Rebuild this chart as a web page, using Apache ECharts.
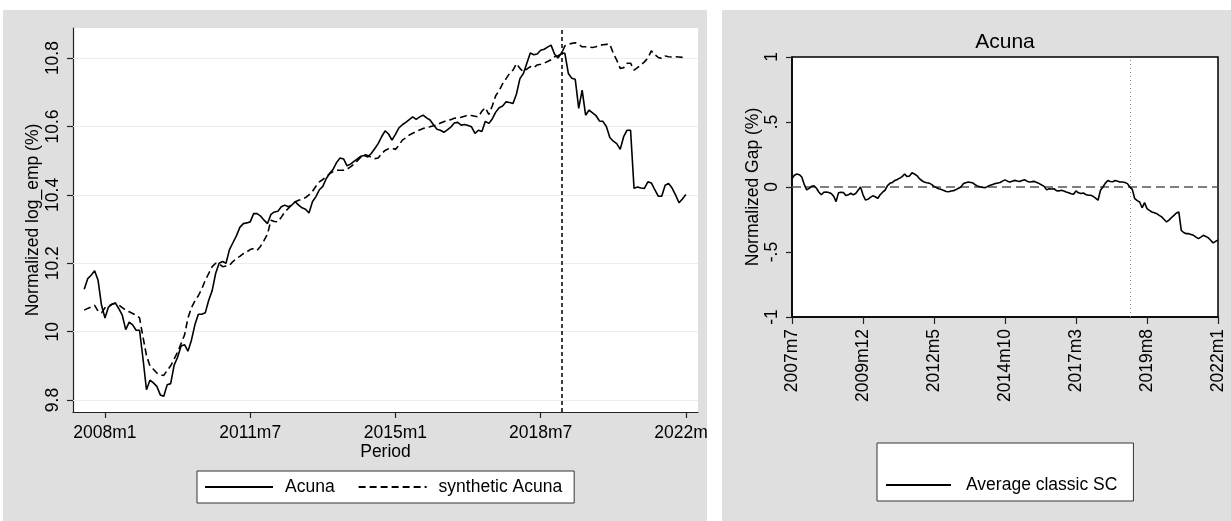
<!DOCTYPE html>
<html>
<head>
<meta charset="utf-8">
<title>Acuna: actual vs synthetic employment</title>
<script src="https://cdn.jsdelivr.net/npm/echarts@6/dist/echarts.min.js"></script>
<style>
  html, body { margin: 0; padding: 0; background: #ffffff; }
  #chart { width: 1231px; height: 521px; }
</style>
</head>
<body>
<div id="chart"></div>
<script>
// Monthly observations, 2007m7 .. 2022m1 (175 months)
const startYear = 2007;
const startMonth = 7;

// Normalized log employment, Acuna
const acuna = [
  10.124, 10.155, 10.165, 10.178, 10.150, 10.077, 10.040, 10.072, 10.080, 10.084,
  10.067, 10.048, 10.006, 10.028, 10.020, 10.004, 10.004, 9.920, 9.830, 9.858,
  9.850, 9.840, 9.815, 9.811, 9.845, 9.848, 9.902, 9.925, 9.958, 9.962,
  9.943, 9.975, 10.020, 10.051, 10.051, 10.055, 10.092, 10.120, 10.170, 10.200,
  10.205, 10.200, 10.240, 10.260, 10.280, 10.305, 10.316, 10.318, 10.321, 10.345,
  10.345, 10.338, 10.326, 10.316, 10.343, 10.350, 10.352, 10.365, 10.370, 10.365,
  10.370, 10.380, 10.370, 10.362, 10.358, 10.347, 10.380, 10.395, 10.415, 10.425,
  10.448, 10.463, 10.475, 10.495, 10.508, 10.505, 10.485, 10.490, 10.498, 10.505,
  10.513, 10.515, 10.511, 10.521, 10.535, 10.550, 10.570, 10.587, 10.578, 10.560,
  10.577, 10.596, 10.605, 10.612, 10.620, 10.628, 10.621, 10.628, 10.633, 10.625,
  10.619, 10.605, 10.592, 10.589, 10.583, 10.590, 10.598, 10.610, 10.612, 10.604,
  10.606, 10.603, 10.599, 10.580, 10.589, 10.585, 10.615, 10.609, 10.622, 10.642,
  10.655, 10.660, 10.672, 10.670, 10.667, 10.695, 10.740, 10.755, 10.785, 10.815,
  10.810, 10.812, 10.823, 10.826, 10.832, 10.838, 10.812, 10.800, 10.815, 10.814,
  10.755, 10.741, 10.738, 10.653, 10.706, 10.633, 10.648, 10.640, 10.632, 10.616,
  10.615, 10.600, 10.568, 10.557, 10.550, 10.533, 10.570, 10.589, 10.589, 10.419,
  10.423, 10.420, 10.419, 10.438, 10.435, 10.415, 10.396, 10.396, 10.428, 10.433,
  10.420, 10.400, 10.377, 10.388, 10.401
];

// Normalized log employment, synthetic Acuna
const synthetic = [
  10.063, 10.068, 10.072, 10.077, 10.060, 10.055, 10.070, 10.075, 10.080, 10.083,
  10.078, 10.070, 10.063, 10.058, 10.053, 10.048, 10.040, 9.984, 9.930, 9.900,
  9.890, 9.879, 9.874, 9.872, 9.887, 9.900, 9.920, 9.940, 9.965, 9.990,
  10.040, 10.070, 10.090, 10.105, 10.125, 10.150, 10.170, 10.190, 10.200, 10.198,
  10.190, 10.192, 10.194, 10.205, 10.214, 10.220, 10.228, 10.233, 10.240, 10.243,
  10.238, 10.250, 10.267, 10.285, 10.326, 10.322, 10.321, 10.335, 10.350, 10.360,
  10.370, 10.380, 10.384, 10.388, 10.392, 10.400, 10.410, 10.425, 10.438, 10.445,
  10.453, 10.462, 10.468, 10.472, 10.472, 10.472, 10.475, 10.482, 10.490, 10.500,
  10.510, 10.518, 10.515, 10.510, 10.506, 10.508, 10.520, 10.530, 10.535, 10.536,
  10.533, 10.545, 10.560, 10.567, 10.575, 10.580, 10.585, 10.590, 10.594, 10.597,
  10.599, 10.602, 10.604, 10.610, 10.614, 10.618, 10.620, 10.624, 10.625, 10.627,
  10.630, 10.633, 10.632, 10.630, 10.628, 10.645, 10.655, 10.635, 10.660, 10.690,
  10.705, 10.725, 10.740, 10.755, 10.765, 10.784, 10.770, 10.760, 10.768, 10.775,
  10.772, 10.780, 10.782, 10.785, 10.790, 10.795, 10.804, 10.807, 10.812, 10.836,
  10.840, 10.843, 10.845, 10.840, 10.833, 10.833, 10.832, 10.831, 10.833, 10.837,
  10.839, 10.840, 10.841, 10.814, 10.794, 10.770, 10.772, 10.785, 10.785, 10.765,
  10.772, 10.780, 10.789, 10.800, 10.821, 10.810, 10.802, 10.799, 10.806, 10.804,
  10.803, 10.804, 10.803, 10.802, 10.801
];

// Normalized gap, average classic synthetic control
const avgGap = [
  0.065, 0.090, 0.100, 0.095, 0.077, 0.020, -0.022, -0.010, 0.005, 0.010,
  -0.010, -0.040, -0.060, -0.040, -0.038, -0.042, -0.050, -0.070, -0.112, -0.045,
  -0.040, -0.042, -0.065, -0.060, -0.048, -0.060, -0.050, -0.025, 0.000, -0.060,
  -0.100, -0.095, -0.080, -0.068, -0.075, -0.088, -0.060, -0.040, -0.025, 0.010,
  0.028, 0.035, 0.050, 0.058, 0.068, 0.080, 0.100, 0.080, 0.085, 0.110,
  0.100, 0.088, 0.065, 0.050, 0.038, 0.033, 0.030, 0.020, 0.005, -0.005,
  -0.013, -0.020, -0.027, -0.035, -0.036, -0.031, -0.028, -0.020, -0.010, 0.000,
  0.026, 0.032, 0.038, 0.035, 0.030, 0.015, 0.005, 0.000, -0.003, -0.005,
  0.005, 0.013, 0.020, 0.027, 0.030, 0.035, 0.045, 0.055, 0.045, 0.038,
  0.045, 0.051, 0.046, 0.043, 0.050, 0.056, 0.045, 0.038, 0.041, 0.043,
  0.035, 0.026, 0.015, 0.005, -0.022, -0.013, -0.015, -0.013, -0.028, -0.030,
  -0.025, -0.030, -0.038, -0.044, -0.052, -0.056, -0.030, -0.045, -0.050, -0.046,
  -0.058, -0.064, -0.064, -0.072, -0.085, -0.102, -0.025, 0.000, 0.030, 0.050,
  0.042, 0.040, 0.050, 0.045, 0.038, 0.038, 0.035, 0.026, 0.000, -0.018,
  -0.090, -0.105, -0.115, -0.160, -0.120, -0.166, -0.180, -0.192, -0.198, -0.205,
  -0.218, -0.230, -0.250, -0.269, -0.255, -0.235, -0.218, -0.200, -0.192, -0.333,
  -0.350, -0.359, -0.359, -0.365, -0.372, -0.385, -0.397, -0.385, -0.372, -0.380,
  -0.390, -0.410, -0.430, -0.418, -0.410
];

// Tick labels
const leftXTicks = ['2008m1', '2011m7', '2015m1', '2018m7', '2022m1'];
const leftYTicks = [9.8, 10, 10.2, 10.4, 10.6, 10.8];
const rightXTicks = ['2007m7', '2009m12', '2012m5', '2014m10', '2017m3', '2019m8', '2022m1'];
const rightYTicks = [-1, -0.5, 0, 0.5, 1];
const treatmentMonth = '2019m1';

// "YYYYmM" <-> month index counted from the first observation
function toIndex(label) {
  const parts = label.split('m').map(Number);
  return (parts[0] - startYear) * 12 + (parts[1] - startMonth);
}
function toLabel(i) {
  const t = startMonth - 1 + Math.round(i);
  return (startYear + Math.floor(t / 12)) + 'm' + (t % 12 + 1);
}
// Stata-style numbers: drop the leading zero (".5", "-.5")
function stataNum(v) {
  const r = Math.round(v * 10) / 10;
  return String(r).replace(/^(-?)0\./, '$1.');
}

const FONT = '"Liberation Sans", Arial, Helvetica, sans-serif';
const FS = 17.5;
const PANEL = '#dfdfdf';
const GRIDLINE = '#e6eef0';

const series = (arr) => arr.map((v, i) => [i, v]);

const chart = echarts.init(document.getElementById('chart'), null, { renderer: 'canvas' });

const option = {
  animation: false,
  textStyle: { fontFamily: FONT },
  graphic: [
    // panel backgrounds
    { type: 'rect', z: -5, silent: true, shape: { x: 3, y: 10, width: 704, height: 511 }, style: { fill: PANEL } },
    { type: 'rect', z: -5, silent: true, shape: { x: 722, y: 10, width: 509, height: 511 }, style: { fill: PANEL } },
    // gutter between the two panels (clips anything that spills over)
    { type: 'rect', z: 100, silent: true, shape: { x: 707, y: 0, width: 15, height: 521 }, style: { fill: '#ffffff' } },
    // right panel title
    { type: 'text', z: 10, silent: true, x: 1005, y: 42,
      style: { text: 'Acuna', fontSize: 21, fontFamily: FONT, fill: '#000', align: 'center', verticalAlign: 'middle' } }
  ],
  grid: [
    { left: 73, top: 28, width: 625, height: 384, show: true, backgroundColor: '#ffffff', borderWidth: 0 },
    { left: 792, top: 57, width: 426, height: 260, show: true, backgroundColor: '#ffffff', borderColor: '#000', borderWidth: 1.5 }
  ],
  legend: [
    {
      data: ['Acuna', 'synthetic Acuna'],
      selectedMode: false,
      left: 197, top: 471,
      orient: 'horizontal',
      backgroundColor: '#ffffff',
      borderColor: '#333', borderWidth: 1, borderRadius: 0,
      padding: [7, 12, 7, 7],
      itemWidth: 68, itemHeight: 14, itemGap: 23,
      itemStyle: { opacity: 0 },
      textStyle: { fontSize: FS, color: '#000', fontFamily: FONT, padding: [0, 0, 0, 7] }
    },
    {
      data: ['Average classic SC'],
      selectedMode: false,
      left: 877, top: 443,
      backgroundColor: '#ffffff',
      borderColor: '#333', borderWidth: 1, borderRadius: 0,
      padding: [33, 16, 7, 8],
      itemWidth: 65, itemHeight: 14,
      itemStyle: { opacity: 0 },
      textStyle: { fontSize: FS, color: '#000', fontFamily: FONT, padding: [0, 0, 0, 10] }
    }
  ],
  xAxis: [
    {
      gridIndex: 0, type: 'value', min: -3.25, max: 177.5,
      axisLine: { show: true, onZero: false, lineStyle: { color: '#222', width: 1.2 } },
      axisTick: { show: true, length: 6, customValues: leftXTicks.map(toIndex), lineStyle: { color: '#222', width: 1.2 } },
      axisLabel: { customValues: leftXTicks.map(toIndex), formatter: (v) => toLabel(v), fontSize: FS, color: '#000', margin: 12 },
      splitLine: { show: false },
      name: 'Period', nameLocation: 'middle', nameGap: 31, nameMoveOverlap: false,
      nameTextStyle: { fontSize: FS, color: '#000', fontFamily: FONT }
    },
    {
      gridIndex: 1, type: 'value', min: 0, max: 174,
      axisLine: { show: true, onZero: false, lineStyle: { color: '#000', width: 1.5 } },
      axisTick: { show: true, length: 7, customValues: rightXTicks.map(toIndex), lineStyle: { color: '#222', width: 1.2 } },
      axisLabel: { customValues: rightXTicks.map(toIndex), formatter: (v) => toLabel(v), rotate: 90, fontSize: FS, color: '#000', margin: 12 },
      splitLine: { show: false }
    }
  ],
  yAxis: [
    {
      gridIndex: 0, type: 'value', min: 9.765, max: 10.888,
      axisLine: { show: true, onZero: false, lineStyle: { color: '#222', width: 1.2 } },
      axisTick: { show: true, length: 6, customValues: leftYTicks, lineStyle: { color: '#222', width: 1.2 } },
      axisLabel: { customValues: leftYTicks, formatter: stataNum, rotate: 90, fontSize: FS, color: '#000', margin: 11 },
      splitLine: { show: false },
      name: 'Normalized log_emp (%)', nameLocation: 'middle', nameRotate: 90, nameGap: 31, nameMoveOverlap: false,
      nameTextStyle: { fontSize: FS, color: '#000', fontFamily: FONT }
    },
    {
      gridIndex: 1, type: 'value', min: -1, max: 1,
      axisLine: { show: true, onZero: false, lineStyle: { color: '#000', width: 1.5 } },
      axisTick: { show: true, length: 6, customValues: rightYTicks, lineStyle: { color: '#222', width: 1.2 } },
      axisLabel: { customValues: rightYTicks, formatter: stataNum, rotate: 90, fontSize: FS, color: '#000', margin: 11 },
      splitLine: { show: false },
      name: 'Normalized Gap (%)', nameLocation: 'middle', nameRotate: 90, nameGap: 30,
      nameTextStyle: { fontSize: FS, color: '#000', fontFamily: FONT }
    }
  ],
  series: [
    {
      name: 'Acuna', type: 'line', xAxisIndex: 0, yAxisIndex: 0,
      data: series(acuna), symbol: 'none', showSymbol: false, z: 3,
      lineStyle: { color: '#000', width: 1.6 }, itemStyle: { color: '#000' },
      emphasis: { disabled: true },
      // horizontal grid lines at the labelled ticks
      markLine: {
        silent: true, symbol: 'none', z: 1, label: { show: false }, emphasis: { disabled: true },
        lineStyle: { color: GRIDLINE, width: 1, type: 'solid' },
        data: leftYTicks.map((v) => ({ yAxis: v }))
      }
    },
    {
      name: 'synthetic Acuna', type: 'line', xAxisIndex: 0, yAxisIndex: 0,
      data: series(synthetic), symbol: 'none', showSymbol: false, z: 3,
      lineStyle: { color: '#000', width: 1.6, type: [7, 4] }, itemStyle: { color: '#000' },
      emphasis: { disabled: true },
      // treatment date
      markLine: {
        silent: true, symbol: 'none', z: 4, label: { show: false }, emphasis: { disabled: true },
        lineStyle: { color: '#000', width: 1.5, type: [4, 3] },
        data: [{ xAxis: toIndex(treatmentMonth) }]
      }
    },
    {
      name: 'Average classic SC', type: 'line', xAxisIndex: 1, yAxisIndex: 1,
      data: series(avgGap), symbol: 'none', showSymbol: false, z: 3,
      lineStyle: { color: '#000', width: 1.6 }, itemStyle: { color: '#000' },
      emphasis: { disabled: true },
      markLine: {
        silent: true, symbol: 'none', z: 2, label: { show: false }, emphasis: { disabled: true },
        data: [
          { yAxis: 0, lineStyle: { color: '#555', width: 1.5, type: [9, 5] } },
          { xAxis: toIndex(treatmentMonth), lineStyle: { color: '#888', width: 1, type: [1, 3] } }
        ]
      }
    }
  ]
};

chart.setOption(option);
</script>
</body>
</html>
